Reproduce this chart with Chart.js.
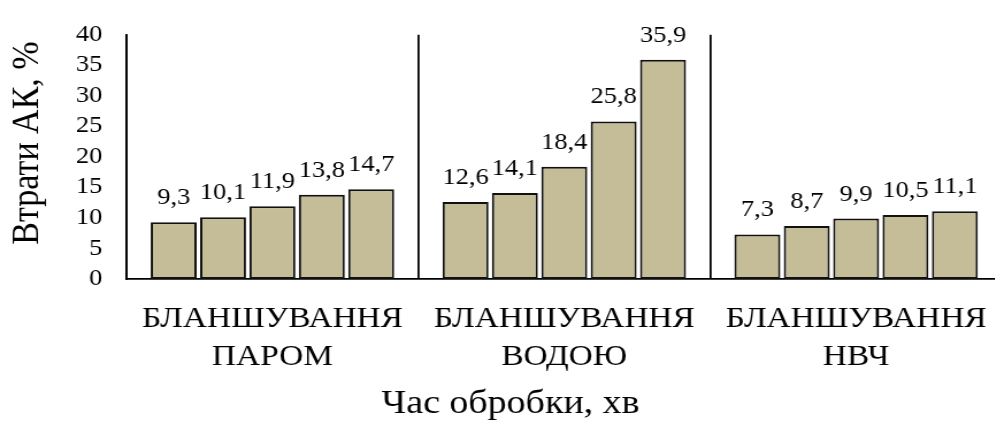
<!DOCTYPE html>
<html>
<head>
<meta charset="utf-8">
<script src="https://cdn.jsdelivr.net/npm/chart.js@4/dist/chart.umd.min.js"></script>
<style>
    html, body { margin: 0; padding: 0; background: #fff; overflow: hidden; }
    #wrap { width: 995px; height: 421px; overflow: hidden; }
    /* the reference looks a bit stretched sideways, so the canvas is scaled in x */
    #chart { display: block; transform: scaleX(1.15); transform-origin: 0 0; }
</style>
</head>
<body>
<div id="wrap"><canvas id="chart" width="880" height="421"></canvas></div>
<script>
    /* ================= DATA ================= */
    const methods = [
        ['БЛАНШУВАННЯ', 'ПАРОМ'],
        ['БЛАНШУВАННЯ', 'ВОДОЮ'],
        ['БЛАНШУВАННЯ', 'НВЧ']
    ];
    const steamLoss = [9.3, 10.1, 11.9, 13.8, 14.7];
    const waterLoss = [12.6, 14.1, 18.4, 25.8, 35.9];
    const microwaveLoss = [7.3, 8.7, 9.9, 10.5, 11.1];
    const yMin = 0;
    const yMax = 40;
    const yStep = 5;
    const xTitle = 'Час обробки, хв';
    const yTitle = 'Втрати АК, %';

    const serif = "'Times New Roman', 'Liberation Serif', serif";
    const barFill = '#c4bd97';

    // one dataset per time point, grouped by method
    const datasets = steamLoss.map((v, i) => ({
        label: 't' + (i + 1),
        data: [steamLoss[i], waterLoss[i], microwaveLoss[i]],
        backgroundColor: barFill,
        borderColor: '#111',
        borderWidth: 2,
        borderSkipped: false,
        categoryPercentage: 0.846,
        barPercentage: 0.93
    }));

    // value labels above each bar + the two axis titles
    const extraText = {
        id: 'extraText',
        afterDatasetsDraw(chart) {
            const ctx = chart.ctx;
            ctx.save();
            ctx.fillStyle = '#000';
            ctx.textAlign = 'center';
            ctx.textBaseline = 'alphabetic';

            ctx.font = '23px ' + serif;
            chart.data.datasets.forEach((ds, di) => {
                chart.getDatasetMeta(di).data.forEach((bar, i) => {
                    const txt = ds.data[i].toFixed(1).replace('.', ',');
                    ctx.fillText(txt, bar.x, bar.y - 18);
                });
            });

            ctx.font = '33px ' + serif;
            ctx.fillText(xTitle, 444, 413);

            ctx.translate(33, 143);
            ctx.rotate(-Math.PI / 2);
            ctx.font = '34px ' + serif;
            ctx.fillText(yTitle, 0, 0);
            ctx.restore();
        }
    };

    new Chart(document.getElementById('chart'), {
        type: 'bar',
        data: { labels: methods, datasets: datasets },
        options: {
            responsive: false,
            animation: false,
            devicePixelRatio: 1,
            // the y axis adds half a label height on top of this
            layout: { padding: { top: 14.2, right: 0.4, left: 0, bottom: 0 } },
            plugins: {
                legend: { display: false },
                tooltip: { enabled: false }
            },
            scales: {
                x: {
                    grid: {
                        display: true,
                        offset: true,
                        color: '#000',
                        lineWidth: 1.8,
                        drawTicks: false
                    },
                    border: { display: true, color: '#000', width: 1.8 },
                    ticks: {
                        color: '#000',
                        padding: 22,
                        maxRotation: 0,
                        font: { family: serif, size: 29, lineHeight: 1.286 }
                    },
                    afterFit: s => { s.height = 142; }
                },
                y: {
                    min: yMin,
                    max: yMax,
                    grid: { display: false, drawTicks: false },
                    border: { display: true, color: '#000', width: 1.8 },
                    ticks: {
                        stepSize: yStep,
                        autoSkip: false,
                        color: '#000',
                        padding: 21,
                        font: { family: serif, size: 23 }
                    },
                    afterFit: s => { s.width = 110; }
                }
            }
        },
        plugins: [extraText]
    });
</script>
</body>
</html>
